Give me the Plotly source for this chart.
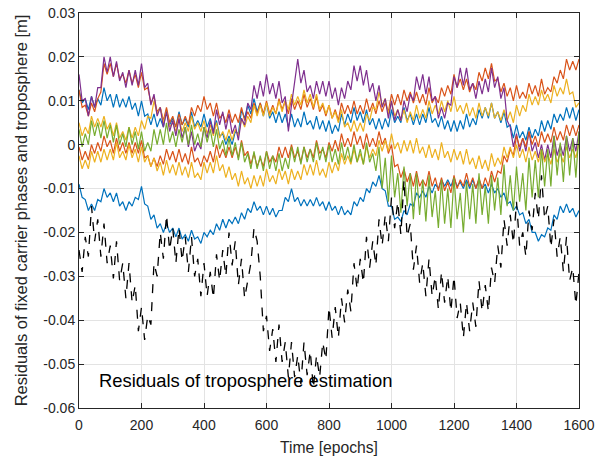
import numpy as np
import plotly.graph_objects as go

# Values in millimetres at a 10-epoch spacing (0..1600 epochs)
blue_upper = [12.5, 9.5, 10.5, 8, 11, 8.5, 10.5, 9, 13, 10, 11.5, 8.5, 11.5, 8.5, 10.5, 8.5, 11, 8, 9.5, 6.5,
              10, 6.5, 7, 4.5, 7, 4, 6, 4, 8, 4.5, 6, 4, 7.5, 4.5, 6, 4, 7.5, 4, 5.5, 4,
              7, 4, 6, 3, 5.5, 2, 2.5, 0, 2, 0, 3, 2.5, 8, 6, 9, 7, 10.5, 7.5, 9.5, 6.5,
              9.5, 6, 7.5, 5, 7.5, 5, 7, 4, 7, 4, 6, 4, 7.5, 4.5, 5.5, 3.5, 6.5, 3.5, 5.5, 3,
              5.5, 2.5, 4.5, 3, 7, 4.5, 7, 5, 8.5, 5.5, 7.5, 5, 8, 4.5, 6, 3.5, 6, 3.5, 6, 4,
              8, 5, 6.5, 5, 8.5, 5.5, 7, 4.5, 7, 4.5, 7, 5, 8.5, 5, 6, 4, 6.5, 3.5, 5.5, 3,
              5.5, 3, 5.5, 3.5, 7, 4, 6, 4.5, 8, 6, 8.5, 6, 9.5, 6, 7.5, 5, 7.5, 4, 4.5, 1.5,
              4.5, 1.5, 3, 1, 4, 1.5, 3.5, 2, 5.5, 3, 5.5, 3.5, 7, 5, 7, 5.5, 8.5, 6, 8.5, 5.5,
              8]

blue_lower = [-9, -12, -12.5, -15, -13.5, -15, -12.5, -13, -10, -12, -11, -13, -11, -14, -13, -15, -13, -14, -12, -12.5,
              -9.5, -13.5, -14, -17, -16, -19, -18, -20, -18, -20, -19, -21, -19, -21.5, -20.5, -22, -19.5, -21.5, -21, -22.5,
              -20, -21, -19.5, -20.5, -18, -19.5, -17, -19, -17, -18, -16.5, -18, -15.5, -17, -14.5, -15.5, -13, -15, -14, -16,
              -14, -16, -14.5, -16.5, -15, -15, -12, -13, -10, -13, -12, -14, -12.5, -14, -12.5, -14, -12, -14, -13, -15,
              -13, -15, -14, -16, -14, -16, -15, -16, -13, -14, -12, -13, -10, -11, -8.5, -9.5, -7, -10, -10.5, -14,
              -14, -17, -16.5, -17.5, -15, -16, -13.5, -14, -11, -12, -10.5, -12, -9.5, -11, -9, -10, -8, -9.5, -8, -9.5,
              -7.5, -9.5, -8.5, -10, -8, -10, -8, -10, -8, -10, -9, -11, -9, -11, -10, -12, -11, -13.5, -13, -15,
              -14, -16, -15.5, -18, -17, -20, -20, -22, -20.5, -21, -19, -19.5, -16, -17, -14, -15.5, -13.5, -15.5, -14.5, -16.5,
              -15]

purple = [16, 10, 10.5, 6.5, 11, 8.5, 13, 13, 20, 16.5, 20, 15.5, 19, 14.5, 16.5, 13, 17, 13.5, 17, 13.5,
          18.5, 13, 14, 9, 11.5, 6.5, 8.5, 4, 7.5, 3, 5.5, 2, 6, 1.5, 4, -0.5, 3, -1.5, 0.5, -1,
          4, 1.5, 5.5, 2.5, 8, 4.5, 7.5, 3.5, 7, 2.5, 4.5, 1, 6, 4.5, 9.5, 8, 13.5, 10.5, 14.5, 11,
          16, 11.5, 14, 10.5, 14.5, 9.5, 11, 3, 9, 14, 19.5, 14, 17, 12, 13.5, 10.5, 14.5, 11.5, 14.5, 11,
          14.5, 10.5, 13, 9, 13, 10.5, 14.5, 12.5, 18, 14.5, 18, 13.5, 17, 12, 14, 10, 13.5, 8.5, 10.5, 6,
          10, 5.5, 8, 5.5, 10, 7.5, 11.5, 10, 15.5, 12.5, 16, 11.5, 15.5, 10, 11, 6, 8.5, 6, 9.5, 9,
          15.5, 13, 17.5, 13.5, 17.5, 12.5, 14, 10.5, 14.5, 11.5, 15, 12, 17.5, 13, 15.5, 10.5, 13, 5.5, 4, -0.5,
          2.5, -1.5, 1.5, -1.5, 3, -1.5, 0.5, -3, 0, -3.5, 0, -3, 2, -2.5, 0, -2.5, 2, -1.5, 1.5, -1.5,
          3]

orange_upper = [12.5, 8.5, 9, 6.5, 9.5, 7.5, 10.5, 12, 18.5, 16, 18.5, 15.5, 18.5, 15, 16, 14, 17, 14, 16, 13,
                16.5, 12.5, 13, 9.5, 11, 7.5, 8.5, 5.5, 8.5, 5, 6.5, 4, 7, 4.5, 6.5, 4.5, 8.5, 6.5, 9, 7.5,
                11, 8, 9.5, 6.5, 9.5, 6, 7, 5, 8, 5, 7, 5, 8.5, 5.5, 7.5, 6, 9.5, 7, 9.5, 7,
                10, 7, 9, 7, 10.5, 8, 10, 7, 10.5, 8, 10, 8, 11.5, 8.5, 10.5, 8, 11, 7.5, 9, 6.5,
                9, 6, 8, 5.5, 9.5, 7, 9, 7, 10, 7, 9, 7, 10.5, 7.5, 9.5, 7, 10, 7.5, 9.5, 7.5,
                11.5, 9, 11.5, 9, 12.5, 10, 12, 9.5, 12, 9.5, 11.5, 9, 13, 9.5, 11, 9.5, 13, 11, 13.5, 11.5,
                16, 13, 15, 12.5, 15, 12, 14, 12.5, 16.5, 14.5, 17.5, 15, 18.5, 14.5, 15, 12, 14, 11, 13, 10,
                13.5, 10.5, 12, 10.5, 14, 11.5, 13.5, 11, 15, 11.5, 13, 12, 15.5, 14, 17, 15, 19.5, 17, 19, 17,
                19.5]

orange_lower = [-0.5, -3.5, -1.5, -3.5, 0, -2, 0.5, -1.5, 2, -0.5, 1, -2, 1.5, -1.5, 0.5, -2, 0.5, -2, 0.5, -2,
                1, -3, -2.5, -5, -3, -5, -2.5, -4.5, -1, -3.5, -1.5, -4, -1, -4, -2, -4.5, -0.5, -4, -3, -5,
                -2.5, -4, -1.5, -4, 0, -3, -1, -3, -0.5, -3, -0.5, -3, 1, -2.5, -1.5, -4.5, -2, -5, -3, -5,
                -1.5, -4, -2.5, -4, -0.5, -3, -0.5, -3, 0, -3, -1.5, -4, -0.5, -3, -1, -3, 1, -2, -1, -3,
                0.5, -1.5, 1, -1.5, 2.5, -0.5, 1.5, -0.5, 3, 0, 2, -1, 2.5, -0.5, 1.5, -0.5, 3, 0, 1.5, -2,
                0, -5, -4.5, -7.5, -5.5, -8.5, -6.5, -9.5, -6, -9.5, -8, -9.5, -6, -9.5, -7.5, -10.5, -7.5, -10.5, -8.5, -11,
                -7, -10, -8, -9.5, -6.5, -9.5, -7.5, -10, -7.5, -10, -7.5, -9.5, -6, -8.5, -6, -6.5, -2.5, -4, -1, -2.5,
                2, -0.5, 1.5, -0.5, 3, 0, 2, -0.5, 3, 0.5, 2.5, 0.5, 4, 1, 3, 1, 4.5, 2, 4.5, 2,
                4.5]

yellow_upper = [5, 2, 4, 2.5, 6.5, 4, 6, 4, 6.5, 3.5, 5, 2, 5, 1.5, 3, 1, 4, 1.5, 4, 2,
                5.5, 3.5, 6.5, 6, 10, 7, 8.5, 5, 7.5, 4, 5, 3, 6, 3, 5, 3, 6.5, 3.5, 5, 3,
                5.5, 2.5, 4.5, 2, 5, 1.5, 3, 1, 3.5, 1, 3.5, 2, 6, 4, 6.5, 5, 9, 6.5, 9, 6.5,
                9.5, 6.5, 8.5, 7, 10, 7.5, 10, 8, 11.5, 9, 11, 9, 12.5, 9.5, 11.5, 8.5, 11.5, 8, 9.5, 7,
                9, 6, 7.5, 5, 8, 4, 5, 3, 5.5, 3, 5, 3, 7, 5.5, 8.5, 8, 12, 9, 10.5, 7,
                10, 6.5, 8, 5.5, 8, 5, 7.5, 5.5, 9, 6, 8, 6, 10, 7, 9, 7, 10, 7.5, 10, 7.5,
                11, 7.5, 9, 7, 9.5, 6.5, 8.5, 6, 9.5, 6.5, 8.5, 6.5, 9.5, 6, 7.5, 5.5, 8, 5.5, 7.5, 5,
                9, 6.5, 9, 7.5, 11.5, 9, 11, 9, 12.5, 10, 11.5, 9.5, 13.5, 11, 13, 11.5, 15, 11.5, 12, 8.5,
                9.5]

yellow_lower = [-2.5, -5.5, -3.5, -5.5, -1.5, -4, -1.5, -4, -1, -3.5, -1, -3.5, 0.5, -3, -1.5, -3.5, 0, -3, -1, -4,
                -0.5, -4, -2.5, -5, -3, -6, -4, -7, -3.5, -6.5, -4.5, -7, -4, -7, -5, -7.5, -4, -7.5, -6.5, -8,
                -4, -6.5, -4, -6.5, -2.5, -6, -4.5, -7.5, -5, -8, -6.5, -9.5, -6, -9, -7.5, -10, -7, -9.5, -7, -9.5,
                -5.5, -8.5, -7, -9, -5.5, -8, -6, -9, -5.5, -8, -6, -8, -4.5, -7, -4.5, -7, -3.5, -7, -5.5, -7.5,
                -4, -6.5, -4, -6, -2, -4.5, -2.5, -4.5, -1, -4, -2, -4.5, -0.5, -3, -1, -2.5, 1, -1.5, 1, -1.5,
                2.5, -1, 0.5, -2, 1, -1.5, 1, -2, 1.5, -2, -0.5, -3, 0, -3, -1, -3.5, 0.5, -3, -1.5, -4,
                -1, -3.5, -1.5, -4.5, -1, -4.5, -3, -5.5, -2.5, -5.5, -3.5, -6, -2, -5, -3, -4.5, -0.5, -3, -0.5, -3,
                0, -3, -1, -4, -0.5, -3.5, -1.5, -4, -1, -4, -2, -4.5, -1, -4, -2, -4, -0.5, -3, -1, -3,
                0.5]

green = [3.5, -0.5, 2.5, 0, 5.5, 2, 5, 1.5, 5.5, 1.5, 4.5, 0.5, 4.5, 0, 2.5, -0.5, 4, 0, 3, -1,
         3, -1.5, 0.5, -1.5, 3.5, 0, 3.5, 0, 5, 0.5, 3, -0.5, 3.5, 0.5, 4, 0, 4.5, 0, 2.5, -0.5,
         4, 0.5, 3.5, -0.5, 3.5, -1, 1, -2.5, 1.5, -2.5, 0.5, -3.5, 0.5, -4, -2, -5.5, -1.5, -5.5, -2.5, -6,
         -1.5, -5.5, -2.5, -6, -2, -6, -3, -5.5, -0.5, -4, -0.5, -4.5, -0.5, -4, -1, -4, 0.5, -3.5, -0.5, -4,
         0, -4, -1, -4.5, 0.5, -3.5, -0.5, -4, 0, -4, -1, -4.5, 0.5, -4, -2, -6, -0.5, -10, -3, -13,
         -2.5, -12, -6.5, -15.5, -5, -14, -6.5, -17, -6.5, -16, -8, -17.5, -7, -16.5, -10.5, -19, -8, -18, -10, -19,
         -7.5, -17, -11, -20, -8.5, -17, -9, -18, -6.5, -16, -9.5, -18, -7, -15, -7.5, -16, -4.5, -14, -7, -15,
         -5, -13, -6.5, -15, -3, -12, -3.5, -12, -1, -9.5, -1, -9.5, 2, -7, 0.5, -8.5, 2, -7, 1.5, -7.5,
         3]

troposphere = [-24, -29, -21, -25.5, -14, -22, -17, -25.5, -18, -27, -23, -30.5, -22, -31, -27, -35, -27, -36, -32, -42.5,
               -37, -44.5, -39, -41, -27, -30, -20, -26, -16, -24, -19, -27, -19, -26.5, -21, -29, -21, -30, -26, -34.5,
               -27, -34.5, -29, -35, -25, -31, -24, -30, -20, -27.5, -22, -32, -26, -35, -31, -27, -19, -22, -30, -42.5,
               -39, -47, -42, -49.5, -41, -49.5, -45, -53, -45, -53, -48, -54.5, -45, -52.5, -47, -55.5, -48, -53, -45, -49,
               -37, -44, -37, -44, -35, -40.5, -33, -38, -27, -33, -26, -31.5, -21, -28, -22, -27.5, -17, -23, -16, -22,
               -12, -19, -13, -20.5, -8, -21, -18, -28.5, -23, -31.5, -27, -34.5, -26, -34.5, -30, -37.5, -29, -36, -30, -38,
               -30, -39.5, -36, -44, -36, -42.5, -36, -41.5, -31, -38, -32, -38, -28, -31.5, -23, -28, -17, -23, -16, -22.5,
               -13, -23, -20, -25.5, -15, -19.5, -11, -17, -7, -17, -14, -23.5, -17, -25.5, -21, -29, -21, -31, -28, -36.5,
               -29]

xticks = [0, 200, 400, 600, 800, 1000, 1200, 1400, 1600]
yticks = [0.03, 0.02, 0.01, 0, -0.01, -0.02, -0.03, -0.04, -0.05, -0.06]
yticklabels = ["0.03", "0.02", "0.01", "0", "-0.01", "-0.02", "-0.03", "-0.04", "-0.05", "-0.06"]

BLUE = "#0072BD"
ORANGE = "#D95319"
YELLOW = "#EDB120"
PURPLE = "#7E2F8E"
GREEN = "#77AC30"

series = [
    (blue_upper, BLUE),
    (orange_upper, ORANGE),
    (yellow_upper, YELLOW),
    (purple, PURPLE),
    (blue_lower, BLUE),
    (orange_lower, ORANGE),
    (yellow_lower, YELLOW),
    (green, GREEN),
]

FONT = "Liberation Sans, Arial, sans-serif"

fig = go.Figure()
for vals, col in series:
    y = np.array(vals) / 1000.0
    x = np.linspace(0, 1600, len(y))
    fig.add_trace(go.Scatter(x=x, y=y, mode="lines",
                             line=dict(color=col, width=1.2),
                             showlegend=False, hoverinfo="skip"))

yt = np.array(troposphere) / 1000.0
fig.add_trace(go.Scatter(x=np.linspace(0, 1600, len(yt)), y=yt, mode="lines",
                         line=dict(color="black", width=1.3, dash="dash"),
                         showlegend=False, hoverinfo="skip"))

fig.add_annotation(x=57, y=-0.0537, xref="x", yref="y", text="Residuals of troposphere estimation",
                   showarrow=False, xanchor="left", yanchor="middle",
                   font=dict(family=FONT, size=18.4, color="black"))

axis_common = dict(showgrid=True, gridcolor="#e3e3e3", gridwidth=1, automargin=False,
                   showline=True, linecolor="#262626", linewidth=1, mirror="ticks",
                   ticks="inside", ticklen=5, tickcolor="#262626", zeroline=False,
                   ticklabeloverflow="allow",
                   tickfont=dict(family=FONT, size=14, color="#262626"))

fig.update_layout(
    width=607, height=458,
    margin=dict(l=79, r=28, t=13, b=50),
    paper_bgcolor="white", plot_bgcolor="white",
    xaxis=dict(range=[0, 1600], tickvals=xticks, ticktext=[str(v) for v in xticks],
               ticklabelstandoff=4,
               title=dict(text="Time [epochs]", standoff=10,
                          font=dict(family=FONT, size=15.7, color="#262626")),
               **axis_common),
    yaxis=dict(range=[-0.06, 0.03000001], tickvals=yticks, ticktext=yticklabels,
               title=dict(text="Residuals of fixed carrier phases and troposphere [m]", standoff=11,
                          font=dict(family=FONT, size=16.5, color="#262626")),
               **axis_common),
)

# remove the default page margin so the figure fills the window from its corner
fig.write_html("out.html", config={"displayModeBar": False},
               post_script="document.body.style.margin='0';")
